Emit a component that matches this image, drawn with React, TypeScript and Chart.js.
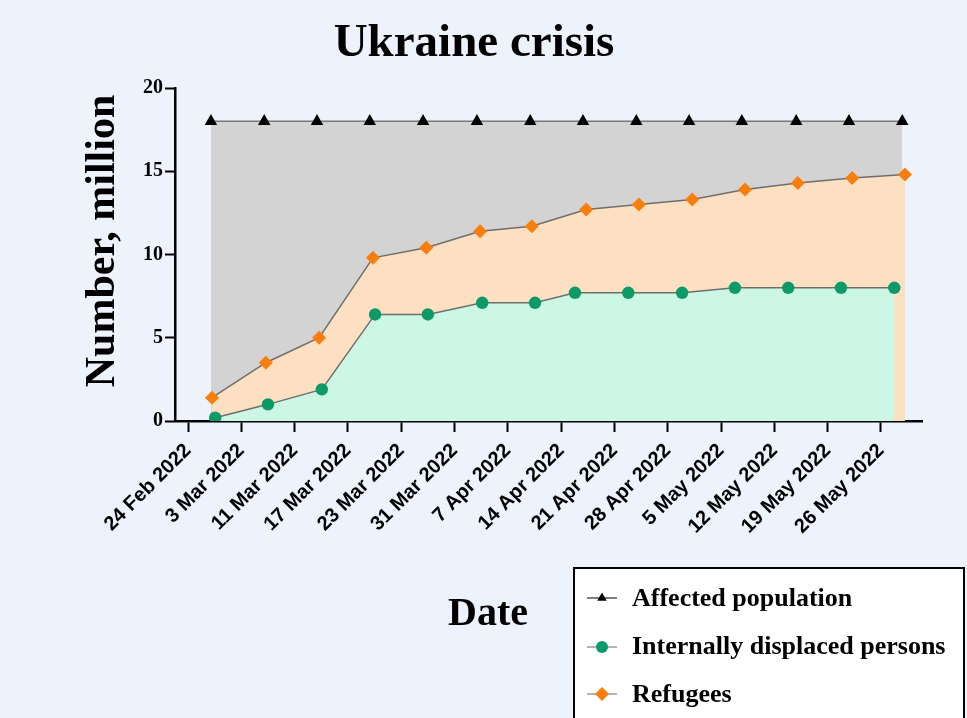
import React, { useEffect, useRef } from 'react';
import { Chart, registerables } from 'chart.js';

Chart.register(...registerables);

// ---- data ----
const dateLabels = [
  '24 Feb 2022', '3 Mar 2022', '11 Mar 2022', '17 Mar 2022', '23 Mar 2022',
  '31 Mar 2022', '7 Apr 2022', '14 Apr 2022', '21 Apr 2022', '28 Apr 2022',
  '5 May 2022', '12 May 2022', '19 May 2022', '26 May 2022',
];
const yTickValues = [0, 5, 10, 15, 20];
const seriesNames = ['Affected population', 'Internally displaced persons', 'Refugees'];

// x positions are in units of the date-tick index (points sit slightly right of ticks)
const affectedPos = [0.43, 1.43, 2.42, 3.41, 4.41, 5.42, 6.42, 7.41, 8.41, 9.40, 10.39, 11.41, 12.40, 13.40];
const affectedValues = [18, 18, 18, 18, 18, 18, 18, 18, 18, 18, 18, 18, 18, 18];

const idpPos = [0.51, 1.50, 2.51, 3.51, 4.50, 5.52, 6.51, 7.26, 8.26, 9.27, 10.26, 11.26, 12.25, 13.25];
const idpValues = [0.2, 1.0, 1.9, 6.4, 6.4, 7.1, 7.1, 7.7, 7.7, 7.7, 8.0, 8.0, 8.0, 8.0];

const refugeePos = [0.45, 1.46, 2.46, 3.47, 4.47, 5.48, 6.45, 7.47, 8.46, 9.46, 10.45, 11.44, 12.46, 13.45];
const refugeeValues = [1.4, 3.5, 5.0, 9.8, 10.4, 11.4, 11.7, 12.7, 13.0, 13.3, 13.9, 14.3, 14.6, 14.8];

const BG = '#ECF3FC';
const SERIF = '"Liberation Serif", "Times New Roman", serif';
const SANS = '"Liberation Sans", Arial, sans-serif';

function marker(ctx: CanvasRenderingContext2D, style: string, x: number, y: number, r: number, color: string) {
  ctx.save();
  ctx.fillStyle = color;
  ctx.beginPath();
  if (style === 'triangle') {
    for (let k = 0; k < 3; k++) {
      const a = (k * 2 * Math.PI) / 3;
      const px = x + Math.sin(a) * r;
      const py = y - Math.cos(a) * r;
      if (k === 0) ctx.moveTo(px, py); else ctx.lineTo(px, py);
    }
    ctx.closePath();
  } else if (style === 'rectRot') {
    ctx.moveTo(x - r, y);
    ctx.lineTo(x, y - r);
    ctx.lineTo(x + r, y);
    ctx.lineTo(x, y + r);
    ctx.closePath();
  } else {
    ctx.arc(x, y, r, 0, Math.PI * 2);
  }
  ctx.fill();
  ctx.restore();
}

const overlayPlugin = {
  id: 'overlayTexts',
  afterDraw(chart: any) {
    const ctx: CanvasRenderingContext2D = chart.ctx;
    ctx.save();
    ctx.fillStyle = '#000';
    // title
    ctx.font = `bold 47px ${SERIF}`;
    ctx.textAlign = 'center';
    ctx.textBaseline = 'alphabetic';
    ctx.fillText('Ukraine crisis', 474, 56);
    // x title
    ctx.font = `bold 40px ${SERIF}`;
    ctx.fillText('Date', 488, 625);
    // y title
    ctx.save();
    ctx.translate(114, 241);
    ctx.rotate(-Math.PI / 2);
    ctx.font = `bold 42px ${SERIF}`;
    ctx.fillText('Number, million', 0, 0);
    ctx.restore();

    // legend box
    ctx.fillStyle = '#FFFFFF';
    ctx.fillRect(574, 568, 390, 170);
    ctx.lineWidth = 2;
    ctx.strokeStyle = '#000';
    ctx.strokeRect(574, 568, 390, 170);

    const rows = [
      { ds: chart.data.datasets[2], cy: 598, base: 606, r: 5.5 },
      { ds: chart.data.datasets[0], cy: 647, base: 654, r: 6 },
      { ds: chart.data.datasets[1], cy: 694, base: 702, r: 7 },
    ];
    rows.forEach((row) => {
      ctx.strokeStyle = row.ds.legendLine;
      ctx.lineWidth = 1.5;
      ctx.beginPath();
      ctx.moveTo(587, row.cy);
      ctx.lineTo(617, row.cy);
      ctx.stroke();
      marker(ctx, row.ds.pointStyle, 602, row.cy, row.r, row.ds.pointBackgroundColor);
      ctx.fillStyle = '#000';
      ctx.font = `bold 26px ${SERIF}`;
      ctx.textAlign = 'left';
      ctx.fillText(row.ds.label, 632, row.base);
    });
    ctx.restore();
  },
};

export default function App() {
  const canvasRef = useRef<HTMLCanvasElement | null>(null);

  useEffect(() => {
    document.body.style.margin = '0';
    document.body.style.background = BG;
    const canvas = canvasRef.current;
    if (!canvas) return;

    const chart = new Chart(canvas, {
      type: 'line',
      data: {
        datasets: [
          {
            label: seriesNames[1],
            data: idpPos.map((x, i) => ({ x, y: idpValues[i] })),
            borderColor: '#6E6E6E',
            borderWidth: 1.5,
            backgroundColor: '#CCF7E5',
            fill: 'origin',
            pointStyle: 'circle',
            pointRadius: 6.2,
            pointBackgroundColor: '#0E9A68',
            pointBorderColor: '#0E9A68',
            pointBorderWidth: 0,
            tension: 0,
            legendLine: '#9a9a9a',
          } as any,
          {
            label: seriesNames[2],
            data: refugeePos.map((x, i) => ({ x, y: refugeeValues[i] })),
            borderColor: '#6E6E6E',
            borderWidth: 1.5,
            backgroundColor: '#FDE0C1',
            fill: 'origin',
            pointStyle: 'rectRot',
            pointRadius: 7,
            pointBackgroundColor: '#FA7E0C',
            pointBorderColor: '#FA7E0C',
            pointBorderWidth: 0,
            tension: 0,
            legendLine: '#9a9a9a',
          } as any,
          {
            label: seriesNames[0],
            data: affectedPos.map((x, i) => ({ x, y: affectedValues[i] })),
            borderColor: '#777777',
            borderWidth: 1.5,
            backgroundColor: '#D3D3D3',
            fill: 'origin',
            pointStyle: 'triangle',
            pointRadius: 7.2,
            pointBackgroundColor: '#000000',
            pointBorderColor: '#000000',
            pointBorderWidth: 0,
            tension: 0,
            legendLine: '#555555',
          } as any,
        ],
      },
      options: {
        animation: false,
        responsive: false,
        maintainAspectRatio: false,
        layout: { padding: { left: 0, top: 88, right: 45, bottom: 147 } },
        plugins: {
          legend: { display: false },
          tooltip: { enabled: false },
          title: { display: false },
        },
        scales: {
          x: {
            type: 'linear',
            min: -0.244,
            max: 13.77,
            afterBuildTicks: (axis: any) => {
              axis.ticks = dateLabels.map((_, i) => ({ value: i }));
            },
            afterFit: (s: any) => {
              s.height = 150;
            },
            ticks: {
              autoSkip: false,
              minRotation: 45,
              maxRotation: 45,
              padding: 7,
              color: '#000',
              font: { family: SANS, weight: 'bold', size: 20 },
              callback: (v: any) => dateLabels[Math.round(Number(v))] ?? '',
            },
            grid: {
              drawOnChartArea: false,
              drawTicks: true,
              tickLength: 11,
              tickColor: '#000',
              tickWidth: 2,
            },
            border: { display: true, color: '#000', width: 2.5 },
          },
          y: {
            min: 0,
            max: 20,
            afterBuildTicks: (axis: any) => {
              axis.ticks = yTickValues.map((v) => ({ value: v }));
            },
            afterFit: (s: any) => {
              s.width = 175;
            },
            ticks: {
              padding: 2,
              color: '#000',
              font: { family: SERIF, weight: 'bold', size: 20 },
            },
            grid: {
              drawOnChartArea: false,
              drawTicks: true,
              tickLength: 10,
              tickColor: '#000',
              tickWidth: 2,
            },
            border: { display: true, color: '#000', width: 2.5 },
          },
        },
      } as any,
      plugins: [overlayPlugin],
    });

    return () => {
      chart.destroy();
    };
  }, []);

  return (
    <div style={{ width: 967, height: 718, background: BG, position: 'relative', overflow: 'hidden' }}>
      <canvas ref={canvasRef} width={967} height={718} style={{ display: 'block', width: 967, height: 718 }} />
    </div>
  );
}
